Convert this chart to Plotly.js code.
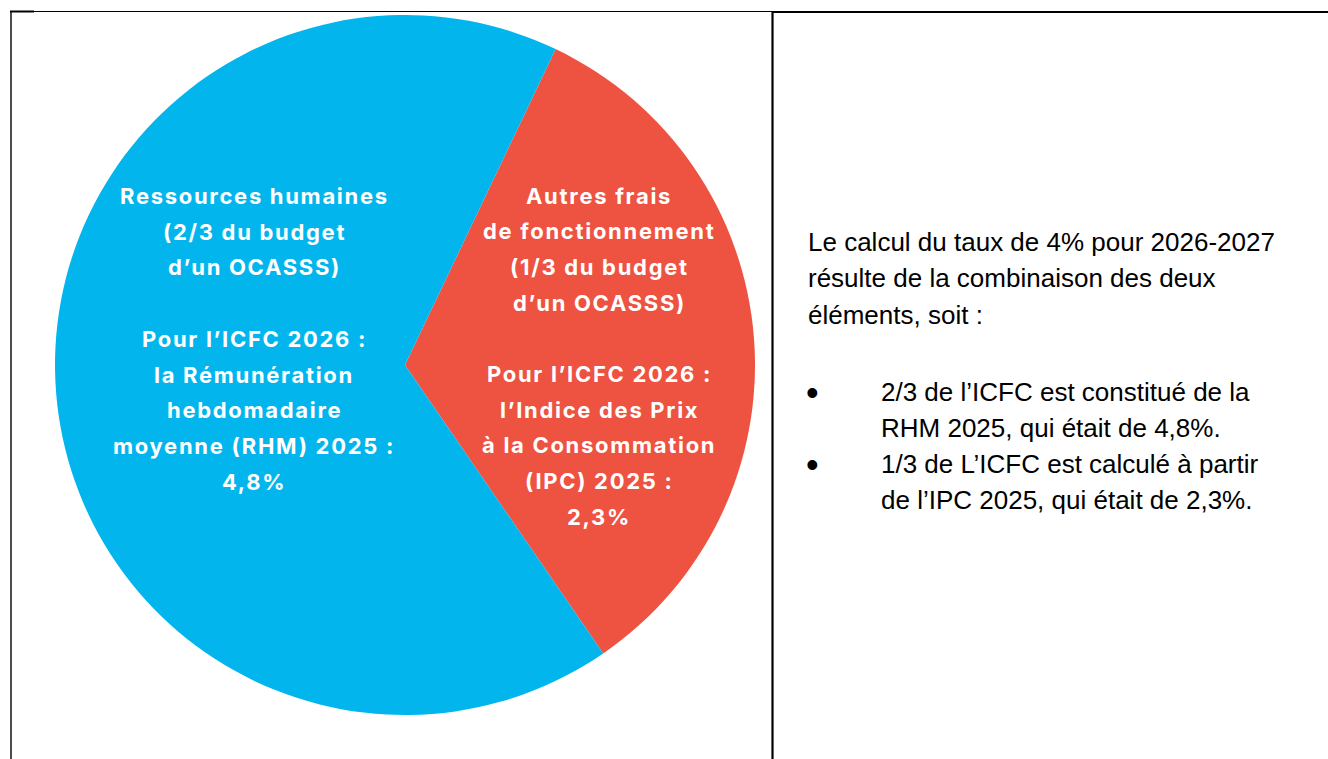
<!DOCTYPE html>
<html>
<head>
<meta charset="utf-8">
<script src="https://cdn.plot.ly/plotly-3.0.1.min.js"></script>
<style>
  html, body { margin: 0; padding: 0; background: #ffffff; }
  #chart { width: 1328px; height: 759px; }
</style>
</head>
<body>
<div id="chart"></div>
<script>
// ---- Data ----
const categories = ["Autres frais de fonctionnement", "Ressources humaines"];
const budgetThirds = [1, 2];          // 1/3 and 2/3 of an OCASSS budget
const sliceColors = ["#EE5241", "#02B6ED"];

const redLabelLines = [
  "Autres frais",
  "de fonctionnement",
  "(1/3 du budget",
  "d’un OCASSS)",
  "",
  "Pour l’ICFC 2026 :",
  "l’Indice des Prix",
  "à la Consommation",
  "(IPC) 2025 :",
  "2,3%"
];
const blueLabelLines = [
  "Ressources humaines",
  "(2/3 du budget",
  "d’un OCASSS)",
  "",
  "Pour l’ICFC 2026 :",
  "la Rémunération",
  "hebdomadaire",
  "moyenne (RHM) 2025 :",
  "4,8%"
];
const introLines = [
  "Le calcul du taux de 4% pour 2026-2027",
  "résulte de la combinaison des deux",
  "éléments, soit :"
];
const bulletItems = [
  ["2/3 de l’ICFC est constitué de la", "RHM 2025, qui était de 4,8%."],
  ["1/3 de L’ICFC est calculé à partir", "de l’IPC 2025, qui était de 2,3%."]
];

// ---- Layout helpers ----
const W = 1328, H = 759;
const px = x => x / W;
const py = y => 1 - y / H;

const annotations = [];
const labelFont = { family: "Inter, Roboto, sans-serif", size: 22, color: "#ffffff", weight: 700 };
const lineStep = 35.7;
const spaced = t => '<span style="letter-spacing:1.7px">' + t + '</span>';

blueLabelLines.forEach((t, i) => {
  if (!t) return;
  annotations.push({
    xref: "paper", yref: "paper", x: px(254), y: py(196 + i * lineStep),
    xanchor: "center", yanchor: "middle", showarrow: false,
    text: spaced(t), font: labelFont
  });
});
redLabelLines.forEach((t, i) => {
  if (!t) return;
  annotations.push({
    xref: "paper", yref: "paper", x: px(599), y: py(195.5 + i * lineStep),
    xanchor: "center", yanchor: "middle", showarrow: false,
    text: spaced(t), font: labelFont
  });
});

const noteFont = { family: "Liberation Sans, Arial, sans-serif", size: 26, color: "#000000" };
const noteStep = 36.3;
introLines.forEach((t, i) => {
  annotations.push({
    xref: "paper", yref: "paper", x: px(806), y: py(242 + i * noteStep),
    xanchor: "left", yanchor: "middle", showarrow: false,
    text: t, font: noteFont
  });
});
let row = 0;
bulletItems.forEach(item => {
  annotations.push({
    xref: "paper", yref: "paper", x: px(813), y: py(392 + row * noteStep),
    xanchor: "center", yanchor: "middle", showarrow: false,
    text: "•", font: { family: "Liberation Sans, Arial, sans-serif", size: 36, color: "#000000" }
  });
  item.forEach(t => {
    annotations.push({
      xref: "paper", yref: "paper", x: px(879), y: py(391.5 + row * noteStep),
      xanchor: "left", yanchor: "middle", showarrow: false,
      text: t, font: noteFont
    });
    row++;
  });
});

const lineShape = (x0, y0, x1, y1, w) => ({
  type: "line", xref: "paper", yref: "paper",
  x0: px(x0), y0: py(y0), x1: px(x1), y1: py(y1),
  line: { color: "#000000", width: w }
});
const shapes = [
  lineShape(10, 11.5, 772, 11.5, 1.2),
  lineShape(772, 12, 1328, 12, 2),
  lineShape(10, 11.5, 34, 11.5, 2),
  lineShape(11, 11, 11, 759, 1.4),
  lineShape(772.5, 11, 772.5, 759, 2.2)
];

const trace = {
  type: "pie",
  labels: categories,
  values: budgetThirds,
  marker: { colors: sliceColors, line: { width: 0 } },
  sort: false,
  direction: "clockwise",
  rotation: 25.5,
  textinfo: "none",
  hoverinfo: "none",
  showlegend: false,
  domain: { x: [px(55), px(755)], y: [py(715), py(15)] }
};

const layout = {
  width: W, height: H,
  margin: { l: 0, r: 0, t: 0, b: 0 },
  paper_bgcolor: "#ffffff",
  plot_bgcolor: "#ffffff",
  showlegend: false,
  shapes: shapes,
  annotations: annotations
};

Plotly.newPlot("chart", [trace], layout, { displayModeBar: false, staticPlot: true });
</script>
</body>
</html>
